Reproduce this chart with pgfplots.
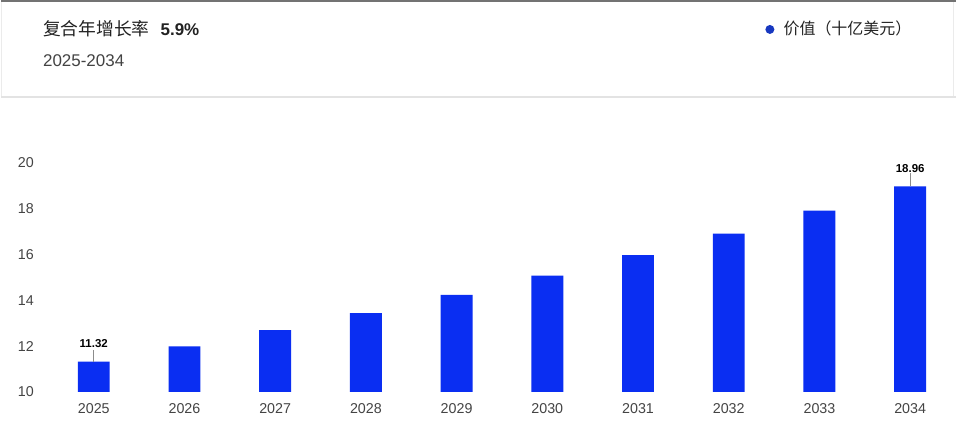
\documentclass[border=0pt]{standalone}
\usepackage{fontspec}
\setmainfont{Liberation Sans}
\newfontfamily\cjk{Noto Sans CJK SC}
\usepackage{pgfplots}
\pgfplotsset{compat=1.18}
\definecolor{barblue}{HTML}{0A2EF2}
\definecolor{dotblue}{HTML}{1738C0}
\definecolor{txt}{HTML}{222222}
\definecolor{ticktxt}{HTML}{444444}

% values, billion USD
\pgfplotstableread{
x y
0 11.32
1 11.99
2 12.69
3 13.44
4 14.23
5 15.07
6 15.96
7 16.90
8 17.90
9 18.96
}\valuedata

\pgfplotstableread{
x y e m
0 11.32 0.51 11.32
9 18.96 0.56 18.96
}\labeldata

\begin{document}
\begin{tikzpicture}
\fill[white] (0bp,0bp) rectangle (957bp,441bp);
% card frame
\draw[black!8, line width=1bp] (0.5bp,441bp) -- (0.5bp,345bp);
\draw[black!8, line width=1bp] (954bp,441bp) -- (954bp,345bp);
\draw[black!55, line width=1.5bp] (0bp,440.25bp) -- (957bp,440.25bp);
\draw[black!11, line width=2bp] (0bp,344bp) -- (957bp,344bp);
% header
\node[anchor=base west, inner sep=0, text=txt, font=\fontsize{17bp}{20bp}\selectfont]
  at (42bp,406bp) {{\cjk\fontsize{17.8bp}{20bp}\selectfont 复合年增长率}\hspace{11bp}\textbf{5.9\%}};
\node[anchor=base west, inner sep=0, text=txt!85, font=\fontsize{17bp}{20bp}\selectfont]
  at (42bp,375bp) {2025-2034};
% legend
\fill[dotblue] (770.5bp,412bp) circle (4.5bp);
\node[anchor=base west, inner sep=0, text=txt, font=\fontsize{16bp}{18bp}\selectfont\cjk]
  at (784bp,407bp) {价值（十亿美元）};

\begin{axis}[
    at={(47.5bp,48.7bp)}, anchor=south west,
    scale only axis, width=909bp, height=230bp,
    xmin=-0.5, xmax=9.5, ymin=10, ymax=20,
    axis line style={draw=none},
    major tick length=0pt,
    xtick=data,
    xticklabels={2025,2026,2027,2028,2029,2030,2031,2032,2033,2034},
    ytick={10,12,14,16,18,20},
    /pgf/number format/assume math mode=true,
    ticklabel style={text=ticktxt, font=\fontsize{14.3bp}{16bp}\selectfont, inner sep=0},
    xticklabel style={anchor=north, yshift=-11.5bp},
    yticklabel style={anchor=east, xshift=-14.5bp},
    clip=false,
]
\addplot[ybar, bar width=32bp, bar shift=0pt, fill=barblue, draw=none]
  table[x=x, y=y] {\valuedata};
\addplot[draw=none, mark=none,
    point meta=explicit symbolic,
    nodes near coords,
    nodes near coords style={anchor=south, yshift=13.5bp, inner sep=0,
        text=black, font=\fontsize{11.5bp}{13bp}\selectfont\bfseries},
    error bars/.cd, y dir=plus, y explicit, error mark=none,
    error bar style={draw=black!45, line width=0.7bp, solid}]
  table[x=x, y=y, y error plus=e, meta=m] {\labeldata};
\end{axis}
\end{tikzpicture}
\end{document}
